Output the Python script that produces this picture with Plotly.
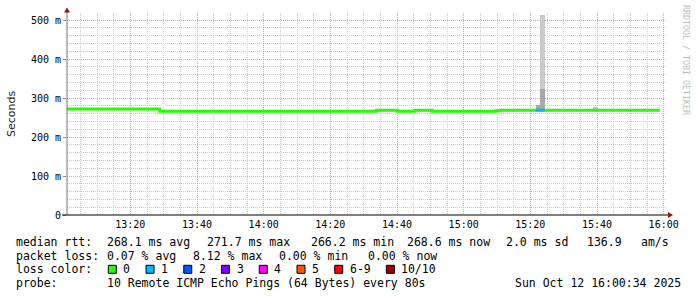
import plotly.graph_objects as go
import pandas as pd

DAY = "2025-10-12 "

# ---------------- data ----------------
# median RTT (ms), step function: value holds from each time until the next
med_times = ["13:00:00", "13:28:50", "14:33:50", "14:40:10", "14:45:20",
             "14:50:30", "15:09:40", "15:11:00", "15:58:50"]
med_values = [271.7, 266.2, 268.6, 266.2, 268.6, 266.2, 267.4, 268.9]

# interval with 1 lost ping (loss colour "1")
loss_times = ["15:21:36", "15:24:20"]
loss_values = [268.9, 268.9]

# smoke (spread of individual pings, ms)
smoke_start = ["15:21:36", "15:22:56", "15:22:56", "15:38:40"]
smoke_end = ["15:22:56", "15:24:20", "15:24:20", "15:40:20"]
smoke_low = [266.0, 266.0, 323.0, 266.0]
smoke_high = [282.0, 323.0, 513.0, 277.0]
smoke_shade = ["#a9a9a9", "#a9a9a9", "#cbcbcb", "#c2c2c2"]

x_tick_times = ["13:20", "13:40", "14:00", "14:20", "14:40", "15:00", "15:20", "15:40", "16:00"]
y_tick_vals = [0, 100, 200, 300, 400, 500]
y_tick_text = ["0", "100 m", "200 m", "300 m", "400 m", "500 m"]

rtt_fields = ["median rtt:", "268.1 ms avg", "271.7 ms max", "266.2 ms min",
              "268.6 ms now", "2.0 ms sd", "136.9", "am/s"]
loss_fields = ["packet loss:", "0.07 % avg", "8.12 % max", "0.00 % min", "0.00 % now"]
loss_labels = ["0", "1", "2", "3", "4", "5", "6-9", "10/10"]
loss_colors = ["#26ff00", "#00b8ff", "#0059ff", "#7e00ff", "#ff00ff", "#ff5500", "#ff0000", "#a10000"]
probe_text = "10 Remote ICMP Echo Pings (64 Bytes) every 80s"
date_text = "Sun Oct 12 16:00:34 2025"

# ---------------- layout helpers (pixel -> paper) ----------------
L, R, T, B = 67, 667, 13, 215
W, H = 697, 297


def px(x):
    return (x - L) / (R - L)


def py(y):
    return (B - y) / (B - T)


MONO = "DejaVu Sans Mono"


def ann(text, x, y, size=11.5, color="#000000", xanchor="left", angle=0, family=MONO):
    return dict(text=text.replace(" ", "\u00a0"), x=px(x), y=py(y), xref="paper", yref="paper",
                showarrow=False, xanchor=xanchor, yanchor="middle", borderpad=0, borderwidth=0,
                textangle=angle, font=dict(family=family, size=size, color=color))


fig = go.Figure()

# smoke bars
t0 = pd.to_datetime([DAY + t for t in smoke_start])
t1 = pd.to_datetime([DAY + t for t in smoke_end])
mid = t0 + (t1 - t0) / 2
widths = [(b - a).total_seconds() * 1000 for a, b in zip(t0, t1)]
for i in range(len(smoke_start)):
    fig.add_trace(go.Bar(x=[mid[i]], y=[smoke_high[i] - smoke_low[i]], base=[smoke_low[i]],
                         width=[widths[i]], marker=dict(color=smoke_shade[i], line=dict(width=0)),
                         showlegend=False, hoverinfo="skip"))

# median line (loss 0 colour)
mx = [DAY + t for t in med_times]
my = med_values + [med_values[-1]]
fig.add_trace(go.Scatter(x=mx, y=my, mode="lines", line=dict(color=loss_colors[0], width=3, shape="hv"),
                         showlegend=False, hoverinfo="skip"))
# loss-coloured segment
fig.add_trace(go.Scatter(x=[DAY + t for t in loss_times], y=loss_values, mode="lines",
                         line=dict(color=loss_colors[1], width=3, shape="hv"),
                         showlegend=False, hoverinfo="skip"))

GRID_MAJ = "#eaa2a2"
GRID_MIN = "#cbcbcb"
DOT = "1px,1px"

fig.update_layout(
    width=W, height=H, autosize=False,
    margin=dict(l=L, r=W - R, t=T, b=H - B, pad=0),
    paper_bgcolor="white", plot_bgcolor="white",
    barmode="overlay", bargap=0,
    showlegend=False,
    xaxis=dict(type="date", range=[DAY + "13:01:00", DAY + "16:01:00"],
               tickvals=[DAY + t for t in x_tick_times], ticktext=x_tick_times,
               tickfont=dict(family=MONO, size=10, color="#000"),
               ticklabelstandoff=2,
               showgrid=True, gridcolor=GRID_MAJ, griddash=DOT, gridwidth=1,
               minor=dict(tick0=DAY + "13:00:00", dtick=300000, showgrid=True,
                          gridcolor=GRID_MIN, griddash=DOT, gridwidth=1),
               showline=False, zeroline=False, ticks="", fixedrange=True),
    yaxis=dict(range=[0, 518], tickvals=y_tick_vals, ticktext=y_tick_text,
               tickfont=dict(family=MONO, size=10, color="#000"),
               showgrid=True, gridcolor=GRID_MAJ, griddash=DOT, gridwidth=1,
               minor=dict(tick0=0, dtick=20, showgrid=True, gridcolor=GRID_MIN,
                          griddash=DOT, gridwidth=1),
               showline=False, zeroline=False, ticks="outside", ticklen=3, tickcolor="#888888",
               fixedrange=True),
)

shapes = []
# y axis line
shapes.append(dict(type="line", xref="paper", yref="paper", x0=px(67), x1=px(67), y0=py(215), y1=py(12),
                   line=dict(color="#777777", width=1)))
# x axis line
shapes.append(dict(type="line", xref="paper", yref="paper", x0=px(62), x1=px(668), y0=py(215), y1=py(215),
                   line=dict(color="#000000", width=1)))
ARROW = "#9a1414"
# top arrow
shapes.append(dict(type="path", xref="paper", yref="paper",
                   path=f"M {px(64)} {py(12.5)} L {px(70)} {py(12.5)} L {px(67)} {py(7.5)} Z",
                   fillcolor=ARROW, line=dict(color=ARROW, width=0)))
# right arrow
shapes.append(dict(type="path", xref="paper", yref="paper",
                   path=f"M {px(668)} {py(212)} L {px(668)} {py(218)} L {px(673)} {py(215)} Z",
                   fillcolor=ARROW, line=dict(color=ARROW, width=0)))

annotations = []
# axis title and watermark
annotations.append(ann("Seconds", 11, 114, size=11, color="#222222", xanchor="center", angle=-90,
                       family="DejaVu Sans"))
annotations.append(ann("RRDTOOL / TOBI OETIKER", 686, 60, size=8.3, color="#bdbdbd", xanchor="center",
                       angle=90))

# stats lines
rtt_x = [15.5, 106.6, 206.6, 311.0, 407.0, 506.0, 586.6, 641.0]
for t, x in zip(rtt_fields, rtt_x):
    annotations.append(ann(t, x, 241.7))
loss_x = [15.5, 106.6, 192.6, 278.6, 368.5]
for t, x in zip(loss_fields, loss_x):
    annotations.append(ann(t, x, 255.7))

annotations.append(ann("loss color:", 15.5, 269.3))
bx = 108.3
for lab, col in zip(loss_labels, loss_colors):
    shapes.append(dict(type="rect", xref="paper", yref="paper",
                       x0=px(bx), x1=px(bx + 8), y0=py(273.3), y1=py(265.3),
                       fillcolor=col, line=dict(color="#000000", width=1)))
    annotations.append(ann(lab, bx + 15.0, 269.3))
    bx += 15.7 + len(lab) * 6.94 + 15.1

annotations.append(ann("probe:", 15.5, 283.3))
annotations.append(ann(probe_text, 106.6, 283.3))
annotations.append(ann(date_text, 680.5, 283.3, xanchor="right"))

fig.update_layout(shapes=shapes, annotations=annotations)
fig.write_html("out.html")
